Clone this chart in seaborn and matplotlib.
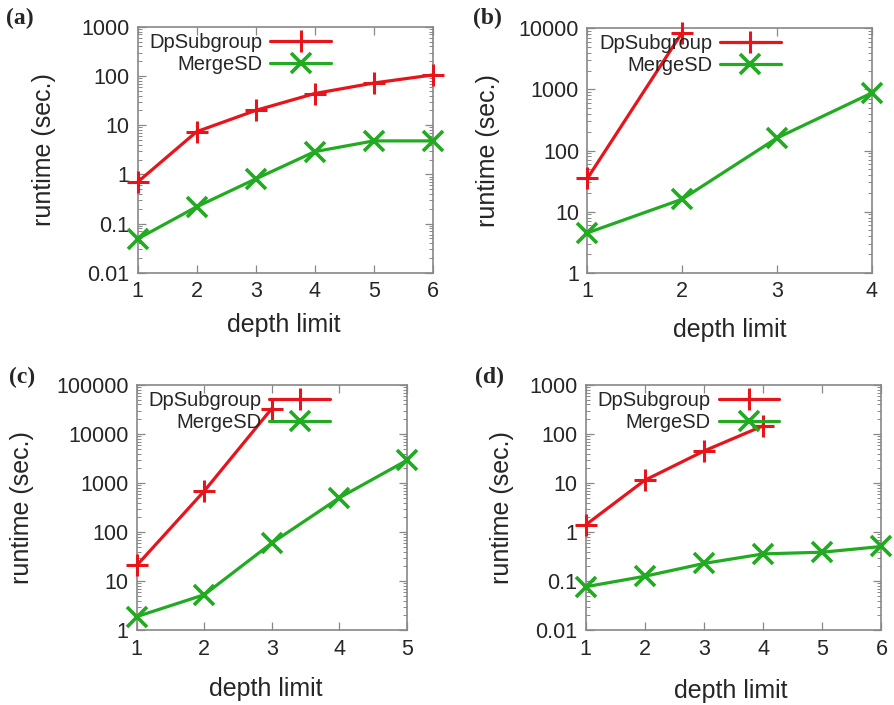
import matplotlib
matplotlib.use("Agg")
import matplotlib.pyplot as plt
import seaborn as sns
import pandas as pd
from matplotlib.ticker import FixedLocator, FuncFormatter, LogLocator, NullFormatter

# ---- data ----
depth_a = [1, 2, 3, 4, 5, 6]
dp_a = [0.7, 7.4, 20, 44, 72, 105]
merge_a = [0.049, 0.22, 0.81, 2.9, 4.8, 4.8]

depth_b_dp = [1, 2]
dp_b = [35, 8500]
depth_b = [1, 2, 3, 4]
merge_b = [4.5, 16, 160, 870]

depth_c_dp = [1, 2, 3]
dp_c = [21, 690, 33000]
depth_c = [1, 2, 3, 4, 5]
merge_c = [1.9, 5.3, 60, 500, 2900]

depth_d_dp = [1, 2, 3, 4]
dp_d = [1.4, 11.4, 45, 147]
depth_d = [1, 2, 3, 4, 5, 6]
merge_d = [0.077, 0.126, 0.23, 0.36, 0.39, 0.51]

panel_labels = ["(a)", "(b)", "(c)", "(d)"]
series_names = ["DpSubgroup", "MergeSD"]
xlabel = "depth limit"
ylabel = "runtime (sec.)"

RED = "#e8141c"
GREEN = "#22aa22"

sns.set_style("ticks")
plt.rcParams['font.family'] = ['Liberation Sans', 'DejaVu Sans']

fig = plt.figure(figsize=(8.94, 7.05), dpi=100)

panels = [
    dict(rect=[0.154, 0.613, 0.330, 0.349], dpx=depth_a, dpy=dp_a, mx=depth_a, my=merge_a,
         ylim=(0.01, 1000), xmax=6, leg=0.655, ylc=-0.278, xlc=(0.495, -0.163),
         lab=(20, 18)),
    dict(rect=[0.657, 0.613, 0.318, 0.347], dpx=depth_b_dp, dpy=dp_b, mx=depth_b, my=merge_b,
         ylim=(1, 10000), xmax=4, leg=0.68, ylc=-0.306, xlc=(0.50, -0.184),
         lab=(487, 18)),
    dict(rect=[0.153, 0.106, 0.302, 0.348], dpx=depth_c_dp, dpy=dp_c, mx=depth_c, my=merge_c,
         ylim=(1, 100000), xmax=5, leg=0.715, ylc=-0.381, xlc=(0.478, -0.19),
         lab=(22, 377)),
    dict(rect=[0.655, 0.106, 0.331, 0.348], dpx=depth_d_dp, dpy=dp_d, mx=depth_d, my=merge_d,
         ylim=(0.01, 1000), xmax=6, leg=0.655, ylc=-0.243, xlc=(0.49, -0.2),
         lab=(489, 377)),
]

fmt = FuncFormatter(lambda v, p: "%g" % v)

for i, p in enumerate(panels):
    ax = fig.add_axes(p["rect"])
    df_dp = pd.DataFrame({"depth": p["dpx"], "runtime": p["dpy"]})
    df_m = pd.DataFrame({"depth": p["mx"], "runtime": p["my"]})
    sns.lineplot(data=df_dp, x="depth", y="runtime", ax=ax, color=RED, lw=2.3,
                 marker="+", markersize=16, markeredgewidth=2.2, markeredgecolor=RED,
                 label=series_names[0], clip_on=False, zorder=3)
    sns.lineplot(data=df_m, x="depth", y="runtime", ax=ax, color=GREEN, lw=2.3,
                 marker="x", markersize=14, markeredgewidth=2.6, markeredgecolor=GREEN,
                 label=series_names[1], clip_on=False, zorder=3)
    ax.set_yscale("log")
    ax.set_ylim(*p["ylim"])
    ax.set_xlim(1, p["xmax"])
    ax.xaxis.set_major_locator(FixedLocator(list(range(1, p["xmax"] + 1))))
    ax.yaxis.set_major_locator(LogLocator(base=10, numticks=20))
    ax.yaxis.set_minor_locator(LogLocator(base=10, subs=range(2, 10), numticks=20))
    ax.yaxis.set_major_formatter(fmt)
    ax.yaxis.set_minor_formatter(NullFormatter())
    ax.tick_params(axis="both", which="major", direction="in", length=6, width=0.9,
                   color="#888888", labelsize=15.5, pad=6, top=True, right=True)
    ax.tick_params(axis="both", which="minor", direction="in", length=3, width=0.7,
                   color="#888888", top=True, right=True)
    for s in ax.spines.values():
        s.set_color("#888888")
        s.set_linewidth(1.2)
    ax.set_xlabel(xlabel, fontsize=18)
    ax.set_ylabel(ylabel, fontsize=18)
    ax.yaxis.set_label_coords(p["ylc"], 0.5)
    ax.xaxis.set_label_coords(*p["xlc"])
    h, l = ax.get_legend_handles_labels()
    ax.legend(h, l, loc="upper right", bbox_to_anchor=(p["leg"], 0.975), frameon=False,
              markerfirst=False, fontsize=14.5, handlelength=3.0, handletextpad=0.4,
              labelspacing=0.15, borderaxespad=0, borderpad=0)
    fig.text(p["lab"][0] / 894, 1 - p["lab"][1] / 705, panel_labels[i], fontsize=17,
             fontweight="bold", family=["Liberation Serif", "DejaVu Serif"],
             va="center", ha="center")

fig.savefig("out.png", dpi=100)
